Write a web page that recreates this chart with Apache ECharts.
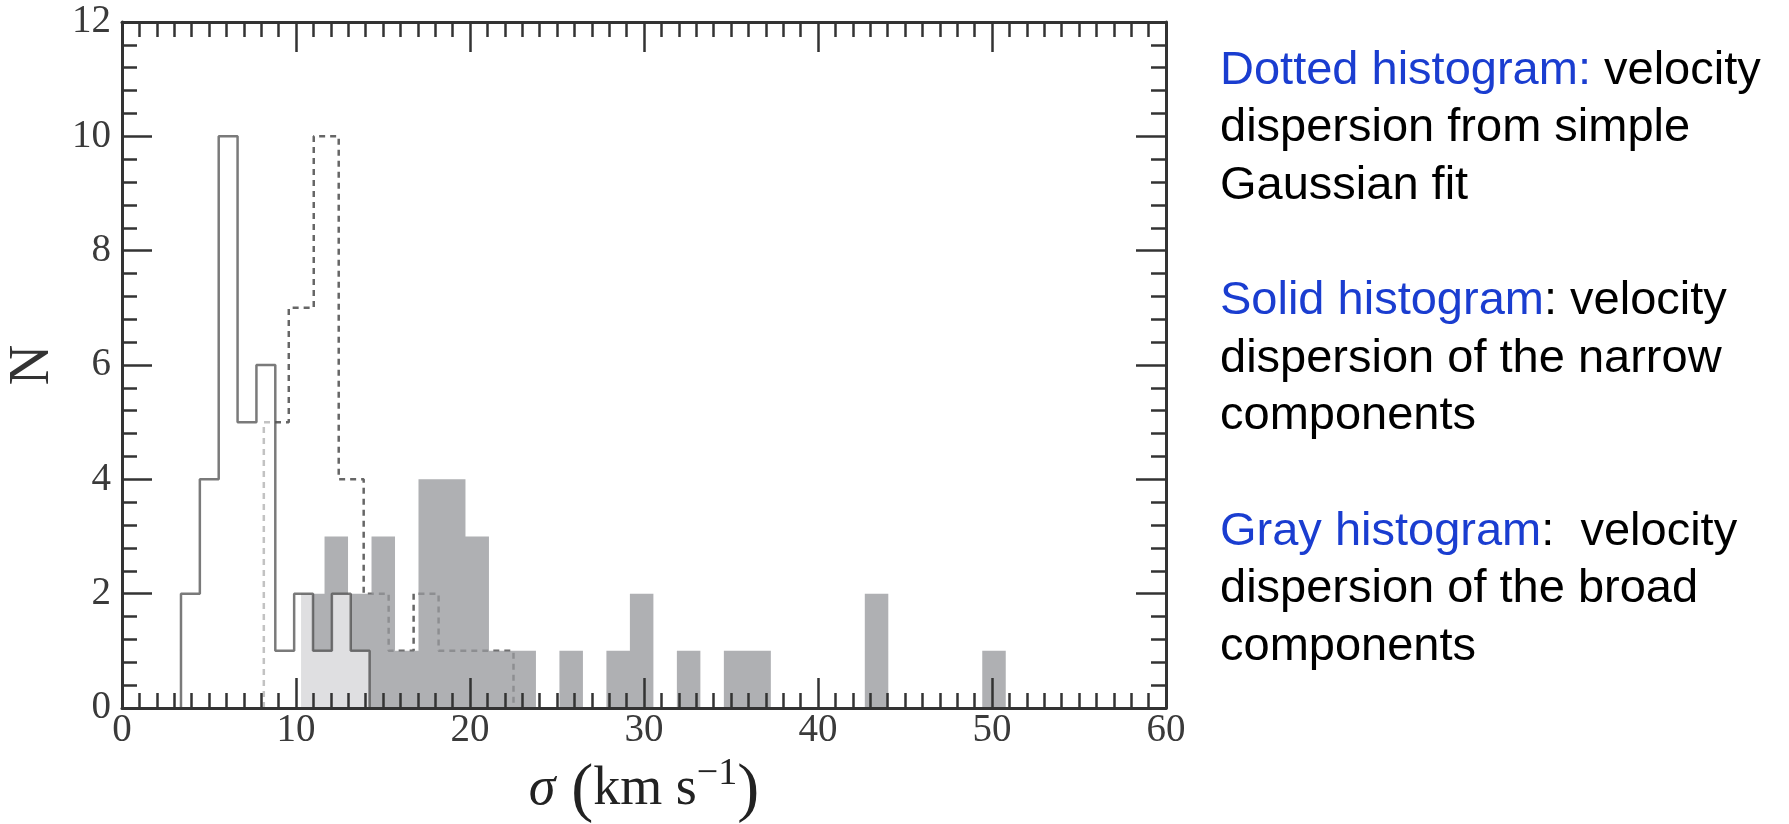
<!DOCTYPE html>
<html>
<head>
<meta charset="utf-8">
<script src="https://cdn.jsdelivr.net/npm/echarts@6/dist/echarts.min.js"></script>
<style>
	html, body { margin: 0; padding: 0; background: #fff; }
	#chart { width: 1789px; height: 824px; }
</style>
</head>
<body>
<div id="chart"></div>
<script>
	// tick labels
	const xTicks = [0, 10, 20, 30, 40, 50, 60]
	const yTicks = [0, 2, 4, 6, 8, 10, 12]

	// dotted histogram: simple gaussian fit
	const dottedStart = 8.15
	const dottedWidth = 1.435
	const dottedCounts = [5, 7, 10, 4, 2, 1, 2, 1, 1, 1]

	// solid histogram: narrow components
	const solidStart = 3.39
	const solidWidth = 1.084
	const solidCounts = [2, 4, 10, 5, 6, 1, 2, 1, 2, 1]

	// gray histogram: broad components
	const grayStart = 10.29
	const grayWidth = 1.35
	const grayCounts = [2, 3, 2, 3, 1, 4, 4, 3, 1, 1, 0, 1, 0, 1, 2, 0, 1, 0, 1, 1, 0, 0, 0, 0, 2, 0, 0, 0, 0, 1]

	function steps(start, width, counts) {
		let pts = [[start, 0]]
		counts.forEach((c, i) => {
			pts.push([start + i * width, c])
			pts.push([start + (i + 1) * width, c])
		})
		pts.push([start + counts.length * width, 0])
		return pts
	}

	const serif = '"Liberation Serif", "DejaVu Serif", serif'
	const sans = '"Liberation Sans", Arial, sans-serif'
	const blue = '#1a3dd0'
	const axisColor = '#333'

	function makeX(pos, show) {
		return {
			type: 'value',
			position: pos,
			z: 10,
			min: xTicks[0],
			max: xTicks[xTicks.length - 1],
			interval: xTicks[1] - xTicks[0],
			axisLine: { show: true, onZero: false, lineStyle: { color: axisColor, width: 3 } },
			axisTick: { show: true, inside: true, length: 30, lineStyle: { color: axisColor, width: 2.5 } },
			minorTick: { show: true, splitNumber: 10, length: 15, lineStyle: { color: axisColor, width: 2.5 } },
			splitLine: { show: false },
			axisLabel: { show: show, margin: 3, fontFamily: serif, fontSize: 39, color: '#3a3a3a' }
		}
	}

	function makeY(pos, show) {
		return {
			type: 'value',
			position: pos,
			z: 10,
			min: yTicks[0],
			max: yTicks[yTicks.length - 1],
			interval: yTicks[1] - yTicks[0],
			axisLine: { show: true, onZero: false, lineStyle: { color: axisColor, width: 3 } },
			axisTick: { show: true, inside: true, length: 30, lineStyle: { color: axisColor, width: 2.5 } },
			minorTick: { show: true, splitNumber: 5, length: 15, lineStyle: { color: axisColor, width: 2.5 } },
			splitLine: { show: false },
			axisLabel: { show: show, margin: 11, fontFamily: serif, fontSize: 39, color: '#3a3a3a' }
		}
	}

	let xBottom = makeX('bottom', true)
	xBottom.name = '{i|σ}{g| }{p|(}{t|km s}{s|−1}{p|)}'
	xBottom.nameLocation = 'middle'
	xBottom.nameGap = 46
	xBottom.nameTextStyle = {
		rich: {
			i: { fontFamily: serif, fontStyle: 'italic', fontSize: 54, color: '#222', verticalAlign: 'bottom' },
			g: { fontFamily: serif, fontSize: 54, color: '#222', verticalAlign: 'bottom', width: 16 },
			t: { fontFamily: serif, fontSize: 54, color: '#222', verticalAlign: 'bottom' },
			p: { fontFamily: serif, fontSize: 66, color: '#222', verticalAlign: 'bottom', padding: [0, 0, -8, 0] },
			s: { fontFamily: serif, fontSize: 38, color: '#222', verticalAlign: 'bottom', padding: [0, 0, 24, 0] }
		}
	}

	let yLeft = makeY('left', true)
	yLeft.name = 'N'
	yLeft.nameLocation = 'middle'
	yLeft.nameGap = 56
	yLeft.nameTextStyle = { fontFamily: serif, fontSize: 56, color: '#333' }

	const textStyle = { fontFamily: sans, fontSize: 47, lineHeight: 57.6, fill: '#000' }
	const rich = { b: { fontFamily: sans, fontSize: 47, lineHeight: 57.6, fill: blue } }
	const notes = [
		'{b|Dotted histogram:} velocity\ndispersion from simple\nGaussian fit',
		'{b|Solid histogram}: velocity\ndispersion of the narrow\ncomponents',
		'{b|Gray histogram}:  velocity\ndispersion of the broad\ncomponents'
	]

	let chart = echarts.init(document.getElementById('chart'))
	chart.setOption({
		animation: false,
		backgroundColor: '#fff',
		grid: { left: 122, top: 22, width: 1044, height: 686, outerBoundsMode: 'none' },
		xAxis: [xBottom, makeX('top', false)],
		yAxis: [yLeft, makeY('right', false)],
		series: [
			{
				type: 'line',
				z: 2,
				data: steps(dottedStart, dottedWidth, dottedCounts),
				showSymbol: false,
				lineStyle: { color: '#666', width: 2.5, type: [6, 5] }
			},
			{
				type: 'line',
				z: 3,
				data: steps(grayStart, grayWidth, grayCounts),
				showSymbol: false,
				lineStyle: { width: 0, opacity: 0 },
				areaStyle: { color: 'rgba(153,154,157,0.78)', opacity: 1 }
			},
			{
				type: 'line',
				z: 4,
				data: steps(solidStart, solidWidth, solidCounts),
				showSymbol: false,
				lineStyle: { color: 'rgba(77,77,77,0.75)', width: 2.5 },
				areaStyle: { color: 'rgba(255,255,255,0.6)', opacity: 1 }
			}
		],
		graphic: notes.map((t, i) => ({
			type: 'text',
			left: 1220,
			top: 42 + i * 4 * 57.6,
			style: Object.assign({ text: t, rich: rich }, textStyle)
		}))
	})
</script>
</body>
</html>
